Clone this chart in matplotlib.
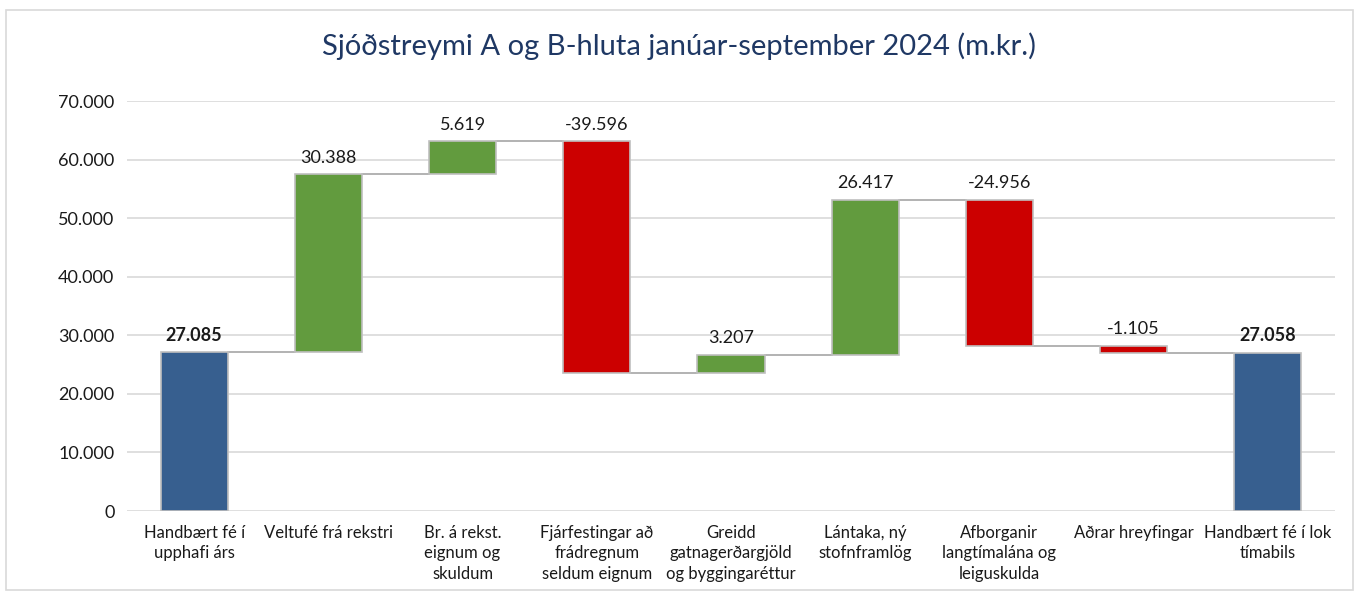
import matplotlib.pyplot as plt
from matplotlib.patches import Rectangle
from matplotlib.ticker import FuncFormatter

plt.rcParams['font.family'] = ['Lato', 'DejaVu Sans']

categories = ["Handbært fé í\nupphafi árs", "Veltufé frá rekstri",
              "Br. á rekst.\neignum og\nskuldum", "Fjárfestingar að\nfrádregnum\nseldum eignum",
              "Greidd\ngatnagerðargjöld\nog byggingaréttur", "Lántaka, ný\nstofnframlög",
              "Afborganir\nlangtímalána og\nleiguskulda", "Aðrar hreyfingar",
              "Handbært fé í lok\ntímabils"]
values = [27085, 30388, 5619, -39596, 3207, 26417, -24956, -1105, 27058]
is_total = [True, False, False, False, False, False, False, False, True]

BLUE = '#375F8F'
GREEN = '#629B3E'
RED = '#CC0000'


def fmt(v):
    return f"{v:,.0f}".replace(",", ".")


fig = plt.figure(figsize=(13.57, 5.92), dpi=100)
ax = fig.add_axes([127 / 1357, 81 / 592, 1208 / 1357, 410 / 592])

running = 0
bottoms, heights, colors, tops = [], [], [], []
for v, tot in zip(values, is_total):
    if tot:
        bottoms.append(0)
        heights.append(v)
        colors.append(BLUE)
        running = v
    else:
        bottoms.append(running if v >= 0 else running + v)
        heights.append(abs(v))
        colors.append(GREEN if v >= 0 else RED)
        running += v
    tops.append(bottoms[-1] + heights[-1])

x = list(range(len(values)))
w = 0.5
ax.bar(x, heights, bottom=bottoms, width=w, color=colors,
       edgecolor='#BFBFBF', linewidth=1.2, zorder=3)

# connector lines
level = 0
for i in range(len(values) - 1):
    if is_total[i]:
        level = values[i]
    else:
        level += values[i]
    ax.plot([i + w / 2, i + 1 - w / 2], [level, level], color='#A6A6A6', lw=1.2, zorder=2)

# value labels
for i, v in enumerate(values):
    ax.text(i, tops[i] + 1500, fmt(v), ha='center', va='bottom', fontsize=13,
            fontweight='bold' if is_total[i] else 'normal', color='#1a1a1a')

ax.set_xlim(-0.5, len(values) - 0.5)
ax.set_ylim(0, 70000)
ax.set_yticks(range(0, 70001, 10000))
ax.yaxis.set_major_formatter(FuncFormatter(lambda v, p: fmt(v)))
ax.set_xticks(x)
ax.set_xticklabels(categories, fontsize=12, linespacing=1.35)
ax.tick_params(axis='both', length=0, colors='#1a1a1a')
ax.tick_params(axis='y', labelsize=13, pad=9)
ax.tick_params(axis='x', pad=10)
ax.grid(axis='y', color='#D9D9D9', lw=1.2, zorder=0)
ax.set_axisbelow(True)
for s in ax.spines.values():
    s.set_visible(False)

fig.text(0.5, 1 - 46 / 592, "Sjóðstreymi A og B-hluta janúar-september 2024 (m.kr.)",
         ha='center', va='center', fontsize=21, color='#1F3864')

fig.patches.append(Rectangle((6 / 1357, 2 / 592), 1 - 10 / 1357, 1 - 12 / 592,
                             transform=fig.transFigure, fill=False,
                             edgecolor='#D9D9D9', lw=1.2))

fig.savefig('out.png', dpi=100)
